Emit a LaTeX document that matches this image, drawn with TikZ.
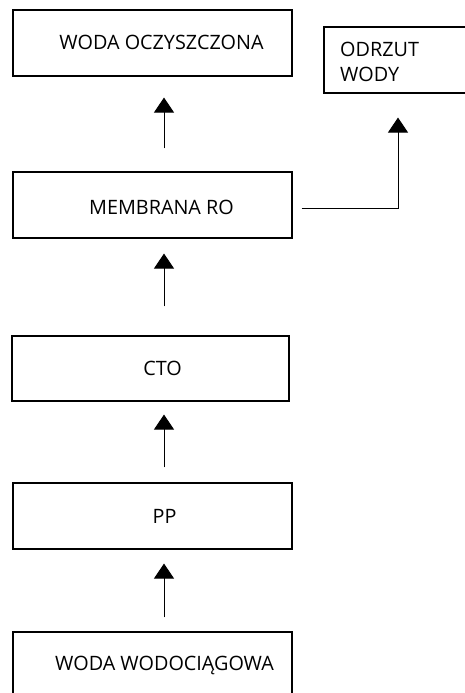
\documentclass[tikz,border=0pt]{standalone}
\usepackage{fontspec}
\setmainfont{Open Sans}
\usetikzlibrary{arrows.meta}

\tikzset{
  stage/.style = {draw, line width = 1.1pt, minimum width = 279pt, minimum height = 66pt, inner sep = 0pt},
  flow/.style = {line width = 0.9pt, -{Triangle[width = 20pt, length = 15pt]}},
}

\begin{document}
\begin{tikzpicture}[x = 1pt, y = -1pt, font = \fontsize{19.8}{25}\selectfont]
\useasboundingbox (0, 0) rectangle (465, 693);
%\draw [very thin, color = gray](0, 0) grid [step = 50] (465, 693);
\coordinate (col) at (164, 0);
\coordinate (side) at (398, 0);
\node [stage, label = {[xshift = 9pt, yshift = 1pt]center:WODA OCZYSZCZONA}] (oczyszczona) at (152.5, 43) {};
\node [stage, minimum width = 151pt] (odrzut) at (399.5, 60) {};
\node [anchor = north west, align = left, inner sep = 0pt] (odrzuttext) at (340, 42) {ODRZUT\\WODY};
\node [stage, label = {[xshift = 9pt, yshift = -2pt]center:MEMBRANA RO}] (membrana) at (152.5, 205) {};
\node [stage, minimum width = 277pt, minimum height = 65pt, label = {[xshift = 12pt]center:CTO}] (cto) at (150.5, 368.5) {};
\node [stage, label = {[xshift = 12pt]center:PP}] (pp) at (152.5, 516) {};
\node [stage, label = {[xshift = 12pt]center:WODA WODOCIĄGOWA}] (wodociag) at (152.5, 665) {};
% arrows up the column
\draw [flow, shorten <= 14pt, shorten >= 14pt] (wodociag.north -| col) -- (pp.south -| col);
\draw [flow, shorten <= 15pt, shorten >= 13pt] (pp.north -| col) -- (cto.south -| col);
\draw [flow, shorten <= 29pt, shorten >= 15pt] (cto.north -| col) -- (membrana.south -| col);
\draw [flow, shorten <= 23pt, shorten >= 21pt] (membrana.north -| col) -- (oczyszczona.south -| col);
% reject line
\draw [flow, shorten <= 9pt, shorten >= 24pt] ([yshift = -3pt]membrana.east) -| (odrzut.south -| side);
\end{tikzpicture}
\end{document}
